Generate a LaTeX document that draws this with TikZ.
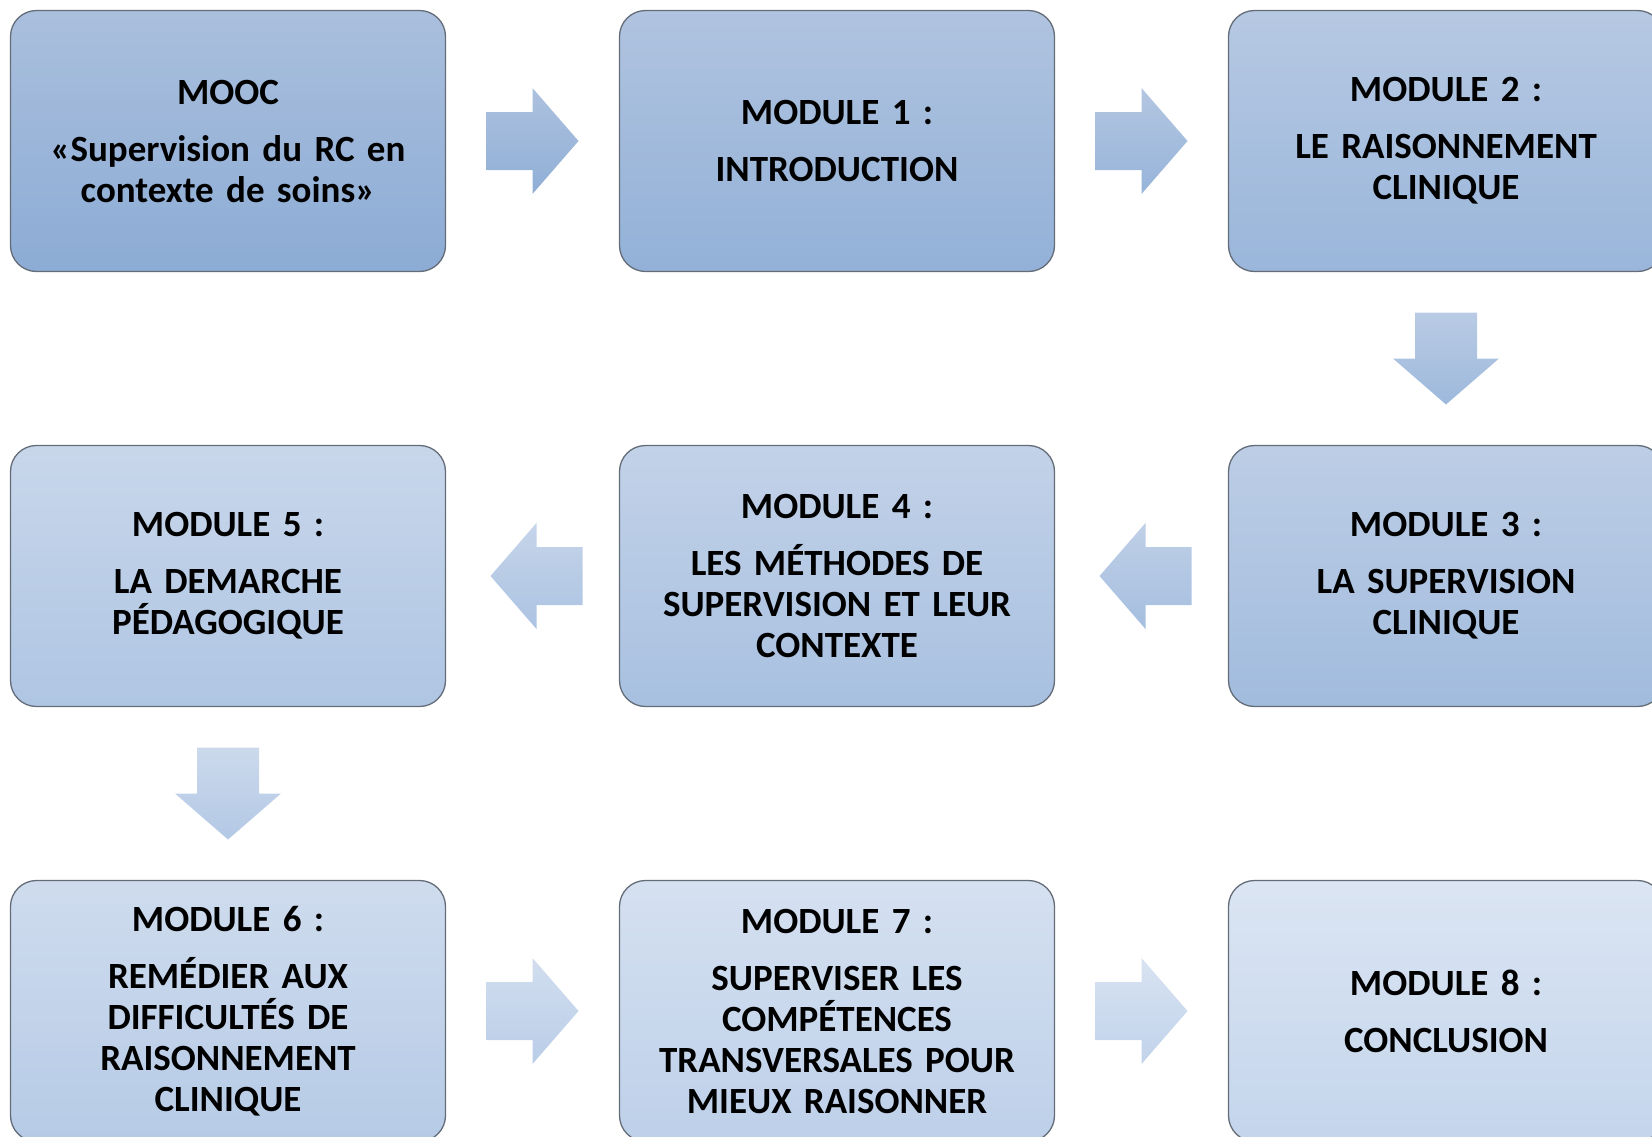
\documentclass[tikz,border=0pt]{standalone}
\usepackage{fontspec}
\setmainfont{Carlito}
\usetikzlibrary{calc}
\definecolor{topA}{RGB}{170,191,221}
\definecolor{topB}{RGB}{219,229,243}
\definecolor{botA}{RGB}{140,172,213}
\definecolor{botB}{RGB}{196,213,236}
\definecolor{edgegray}{RGB}{100,108,120}
\tikzset{
  shadeat/.style={top color=topB!#1!topA, bottom color=botB!#1!botA},
  box/.style={draw=edgegray, line width=1.3pt, rounded corners=26pt,
    minimum width=435pt, minimum height=261pt, inner sep=0pt,
    text width=425pt, align=center,
    font=\fontsize{37}{41}\selectfont\bfseries},
  blockarrow/.style={draw=none}
}
\newcommand{\gap}{\\[16pt]}
\begin{document}
\begin{tikzpicture}[x=1pt,y=-1pt]
\useasboundingbox (0,0) rectangle (1652,1136);
% boxes
\node[box, shadeat=0]  (m0) at (228,141)  {MOOC\gap «Supervision du RC en\\contexte de soins»};
\node[box, shadeat=12] (m1) at (837,141)  {MODULE 1 :\gap INTRODUCTION};
\node[box, shadeat=25] (m2) at (1446,141) {MODULE 2 :\gap LE RAISONNEMENT\\CLINIQUE};
\node[box, shadeat=38] (m3) at (1446,576) {MODULE 3 :\gap LA SUPERVISION\\CLINIQUE};
\node[box, shadeat=50] (m4) at (837,576)  {MODULE 4 :\gap LES MÉTHODES DE\\SUPERVISION ET LEUR\\CONTEXTE};
\node[box, shadeat=62] (m5) at (228,576)  {MODULE 5 :\gap LA DEMARCHE\\PÉDAGOGIQUE};
\node[box, shadeat=75] (m6) at (228,1011) {MODULE 6 :\gap REMÉDIER AUX\\DIFFICULTÉS DE\\RAISONNEMENT\\CLINIQUE};
\node[box, shadeat=88] (m7) at (837,1011) {MODULE 7 :\gap SUPERVISER LES\\COMPÉTENCES\\TRANSVERSALES POUR\\MIEUX RAISONNER};
\node[box, shadeat=100] (m8) at (1446,1011) {MODULE 8 :\gap CONCLUSION};
% arrow centres
\coordinate (a01) at ($(m0.east)!0.5!(m1.west)$);
\coordinate (a12) at ($(m1.east)!0.5!(m2.west)$);
\coordinate (a23) at ($(m2.south)!0.5!(m3.north)$);
\coordinate (a34) at ($(m3.west)!0.5!(m4.east)+(4,0)$);
\coordinate (a45) at ($(m4.west)!0.5!(m5.east)+(4,0)$);
\coordinate (a56) at ($(m5.south)!0.5!(m6.north)$);
\coordinate (a67) at ($(m6.east)!0.5!(m7.west)$);
\coordinate (a78) at ($(m7.east)!0.5!(m8.west)$);
% right arrows
\foreach \c/\s in {a01/6, a12/19, a67/81, a78/94}{
  \path[blockarrow, shadeat=\s] (\c) ++(-46,-29) -- ++(46,0) -- ++(0,-24) -- ++(46,53)
    -- ++(-46,53) -- ++(0,-24) -- ++(-46,0) -- cycle;
}
% left arrows
\foreach \c/\s in {a34/44, a45/56}{
  \path[blockarrow, shadeat=\s] (\c) ++(46,-29) -- ++(-46,0) -- ++(0,-24) -- ++(-46,53)
    -- ++(46,53) -- ++(0,-24) -- ++(46,0) -- cycle;
}
% down arrows
\foreach \c/\s in {a23/31, a56/69}{
  \path[blockarrow, shadeat=\s] (\c) ++(-31,-46) -- ++(0,46) -- ++(-22,0) -- ++(53,46)
    -- ++(53,-46) -- ++(-22,0) -- ++(0,-46) -- cycle;
}
\end{tikzpicture}
\end{document}
